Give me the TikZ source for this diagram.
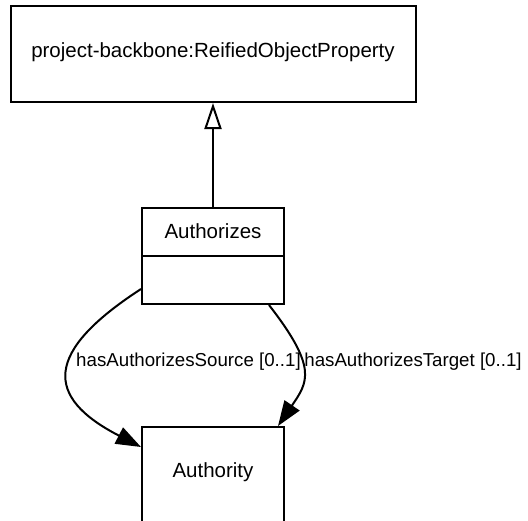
\documentclass[tikz,border=0pt]{standalone}
\usepackage{fontspec}
\setmainfont{Liberation Sans}
\usetikzlibrary{arrows.meta}
\begin{document}
\begin{tikzpicture}[x=1pt,y=-1pt,
  umlbox/.style={draw, line width=2pt, rectangle, inner sep=0pt},
  nodetext/.style={font=\fontsize{20.5}{24}\selectfont, inner sep=0pt},
  edgetext/.style={font=\fontsize{18.7}{22}\selectfont, inner sep=0pt},
  conn/.style={line width=2pt},
  assoc/.style={conn, -{Triangle[length=25pt,width=18pt]}},
  inherit/.style={conn, -{Triangle[open,length=26pt,width=17pt,fill=white]}}]
\useasboundingbox (0,0) rectangle (528,520);
\clip (0,0) rectangle (528,520);
% nodes
\node[umlbox, minimum width=405pt, minimum height=96pt] (top) at (213,54) {};
\node[nodetext] (toplabel) at (213,52) {project-backbone:ReifiedObjectProperty};
\node[umlbox, minimum width=142pt, minimum height=96pt] (authz) at (213,256) {};
\node[nodetext] (authzlabel) at (213,231) {Authorizes};
\draw[line width=2pt] (authz.west) -- (authz.east);
\node[umlbox, minimum width=142pt, minimum height=96pt] (auth) at (213,475) {};
\node[nodetext] (authlabel) at (213,472) {Authority};
% connectors
\draw[inherit] (authz.north) -- (top.south);
\draw[assoc] ([yshift=16pt]authz.south west) .. controls (44,352) and (44,397) .. ([yshift=-21pt]auth.north west);
\draw[assoc] ([xshift=-16pt]authz.south east) .. controls (318,368) and (308,382) .. ([xshift=-7pt]auth.north east);
% labels
\node[edgetext] (srclabel) at (188.5,362) {hasAuthorizesSource [0..1]};
\node[edgetext] (tgtlabel) at (413,362) {hasAuthorizesTarget [0..1]};
\end{tikzpicture}
\end{document}
